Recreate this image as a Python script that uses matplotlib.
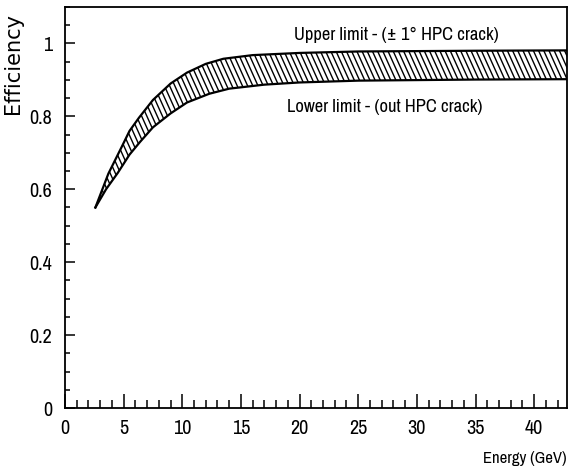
import matplotlib
matplotlib.use("Agg")
import matplotlib.pyplot as plt
import numpy as np
from matplotlib.ticker import MultipleLocator
from matplotlib.collections import LineCollection
from matplotlib import font_manager

# band edges
energy_up = [2.59, 3.7, 4.83, 5.5, 6.3, 7.5, 9.0, 10.4, 12.0, 13.5, 16.0, 20.0, 25.0, 35.0, 42.8]
upper = [0.550, 0.643, 0.716, 0.760, 0.796, 0.845, 0.890, 0.920, 0.944, 0.958, 0.968, 0.974, 0.978, 0.980, 0.981]
energy_lo = [2.59, 3.5, 4.5, 5.5, 6.4, 7.5, 9.0, 10.4, 12.3, 14.0, 17.0, 20.0, 25.0, 35.0, 42.8]
lower = [0.550, 0.600, 0.645, 0.695, 0.730, 0.770, 0.808, 0.838, 0.862, 0.876, 0.887, 0.893, 0.898, 0.901, 0.902]

upper_text = "Upper limit - (\u00b1 1\u00b0 HPC crack)"
lower_text = "Lower limit - (out HPC crack)"

# look for a narrow sans if one is installed
narrow_family, narrow_stretch = 'DejaVu Sans', 'normal'
for f in font_manager.fontManager.ttflist:
    st = f.stretch if isinstance(f.stretch, str) else str(f.stretch)
    if 'Narrow' in f.name or 'Condensed' in f.name:
        narrow_family, narrow_stretch = f.name, 'normal'
        break
    if f.name in ('DejaVu Sans', 'Liberation Sans', 'Noto Sans', 'Roboto', 'Open Sans') \
            and st in ('condensed', 'semi-condensed') and f.style == 'normal' and f.weight in (400, 'normal'):
        narrow_family, narrow_stretch = f.name, st

plt.rcParams['font.family'] = [narrow_family, 'DejaVu Sans']
plt.rcParams['font.stretch'] = narrow_stretch

fig = plt.figure(figsize=(5.69, 4.71), dpi=100)
ax = fig.add_axes([65 / 569, 63 / 471, 502 / 569, 401 / 471])

# band outline as one polygon, filled white, hatched by hand with steep lines
poly_x = energy_up + energy_lo[::-1]
poly_y = upper + lower[::-1]
band = ax.fill(poly_x, poly_y, facecolor='white', edgecolor='none')[0]

w_px, h_px = 502.0, 401.0
step, slope = 5.2, 0.45
offs = np.arange(-slope * h_px, w_px + step, step)
segs = [[(o / w_px, 1.0), ((o + slope * h_px) / w_px, 0.0)] for o in offs]
hatch = LineCollection(segs, colors='black', linewidths=1.0, transform=ax.transAxes)
hatch.set_clip_path(band)
ax.add_collection(hatch)

ax.plot(energy_up, upper, color='black', lw=1.6)
ax.plot(energy_lo, lower, color='black', lw=1.6)

ax.set_xlim(0, 42.8)
ax.set_ylim(0, 1.1)
ax.xaxis.set_major_locator(MultipleLocator(5))
ax.xaxis.set_minor_locator(MultipleLocator(1))
ax.yaxis.set_minor_locator(MultipleLocator(0.05))
ax.set_yticks([0, 0.2, 0.4, 0.6, 0.8, 1.0])
ax.set_yticklabels(['0', '0.2', '0.4', '0.6', '0.8', '1'])

ax.tick_params(axis='x', which='major', direction='in', length=10, width=1.1, pad=8, labelsize=14.5)
ax.tick_params(axis='x', which='minor', direction='in', length=5.5, width=1.1)
ax.tick_params(axis='y', which='major', direction='in', length=7, width=1.1, pad=9, labelsize=14.5)
ax.tick_params(axis='y', which='minor', direction='in', length=3.6, width=1.1)
for s in ax.spines.values():
    s.set_linewidth(1.3)

ax.text(19.5, 1.022, upper_text, fontsize=13.3, va='center', ha='left')
ax.text(18.9, 0.825, lower_text, fontsize=13.3, va='center', ha='left')

fig.text(13 / 569, 1 - 64 / 471, "Efficiency", rotation=90, ha='center', va='center',
         fontsize=15, family='DejaVu Sans', stretch='normal')
fig.text(567 / 569, 1 - 458 / 471, "Energy (GeV)", ha='right', va='center', fontsize=12)

fig.savefig("out.png", dpi=100)
